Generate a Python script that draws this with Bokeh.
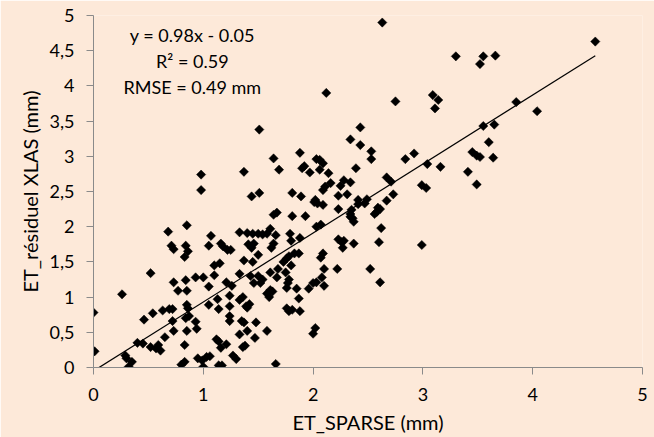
from bokeh.plotting import figure
from bokeh.models import Range1d, FixedTicker, CustomJSTickFormatter, Label, ColumnDataSource
from bokeh.embed import file_html
from bokeh.resources import INLINE

# ET_SPARSE (mm) and ET_résiduel XLAS (mm)
et_sparse = [
    0.00, 0.01, 0.26, 0.29, 0.30, 0.32, 0.35, 0.40, 0.45, 0.46, 0.52, 0.52, 0.54, 0.57, 0.59, 0.61,
    0.63, 0.65, 0.68, 0.69, 0.72, 0.71, 0.73, 0.72, 0.73, 0.73, 0.77, 0.80, 0.83, 0.83, 0.85, 0.84,
    0.83, 0.86, 0.84, 0.85, 0.85, 0.86, 0.84, 0.87, 0.85, 0.93, 1.00, 0.93, 0.94, 0.95, 0.99, 1.03,
    1.06, 1.00, 1.05, 1.07, 1.05, 1.05, 1.10, 1.10, 1.12, 1.14, 1.16, 1.13, 1.14, 1.14, 1.17, 1.15,
    1.16, 1.18, 1.21, 1.21, 1.22, 1.25, 1.24, 1.24, 1.24, 1.26, 1.24, 1.27, 1.30, 1.33, 1.33, 1.33,
    1.33, 1.36, 1.35, 1.37, 1.36, 1.38, 1.37, 1.40, 1.45, 1.50, 1.54, 1.58, 1.39, 1.42, 1.40, 1.40,
    1.41, 1.44, 1.46, 1.43, 1.46, 1.47, 1.48, 1.45, 1.50, 1.50, 1.52, 1.54, 1.58, 1.60, 1.58, 1.61,
    1.62, 1.64, 1.64, 1.67, 1.61, 1.63, 1.66, 1.68, 1.67, 1.61, 1.66, 1.88,
    1.73, 1.76, 1.75, 1.77, 1.76, 1.78, 1.80, 1.78, 1.76, 1.78, 1.81, 1.79, 1.80, 1.81, 1.83, 1.87,
    1.85, 1.87, 1.88, 1.93, 1.96, 2.00, 2.03, 2.00, 2.02, 2.03, 2.07, 2.07, 2.08, 2.10, 2.10,
    2.09, 2.22, 2.23, 2.26, 2.28, 2.27, 2.37, 2.35, 2.36, 2.37, 2.58, 2.52, 2.60, 2.62, 2.61, 2.99,
    0.98, 0.98, 1.37, 1.51, 1.44, 1.51, 1.64, 1.69, 1.81, 1.88, 1.89, 1.90, 1.92, 1.97, 2.03, 2.06,
    2.09, 2.06, 2.01, 2.04, 2.09, 2.11, 2.09, 2.14,
    2.63, 2.12, 3.30, 3.55, 3.52, 3.66, 4.57, 2.75, 3.09, 3.14, 3.11, 3.85, 4.04, 2.43, 2.34, 2.43,
    2.53, 2.53, 3.55, 3.65, 3.60, 3.45, 3.49, 3.52, 3.64, 3.41, 3.49, 2.84, 2.92, 3.04, 3.16, 2.99,
    3.03, 2.67, 2.71, 2.73, 2.67, 2.61, 2.56, 2.49, 2.41, 2.41, 2.34, 2.34, 2.23, 2.39,
    2.28, 2.34, 2.25, 2.31, 2.23, 2.16, 2.02, 2.47, 2.59,
]
et_residuel = [
    0.78, 0.23, 1.04, 0.17, 0.13, 0.01, 0.08, 0.35, 0.34, 0.68, 1.34, 0.29, 0.77, 0.27, 0.32, 0.24,
    0.81, 0.43, 1.93, 0.83, 0.83, 1.73, 1.68, 0.66, 1.21, 0.52, 1.09, 0.04, 0.32, 0.08, 2.02, 1.73,
    1.57, 1.65, 1.24, 1.09, 0.89, 0.84, 0.70, 0.73, 0.52, 1.28, 1.28, 0.65, 0.55, 0.13, 0.10, 0.15,
    0.16, 0.01, 1.73, 1.87, 1.15, 0.89, 1.45, 1.31, 0.40, 0.37, 0.28, 0.97, 0.83, 0.03, 0.03, 1.48,
    1.76, 1.72, 1.21, 0.33, 1.67, 1.67, 0.87, 0.73, 0.66, 1.16, 1.02, 0.17, 0.12, 1.33, 1.92, 0.47,
    0.96, 1.00, 0.66, 0.64, 0.29, 0.31, 1.52, 1.91, 1.90, 1.90, 1.89, 1.90, 0.87, 0.90, 0.85, 0.52,
    1.75, 1.70, 1.76, 1.30, 1.20, 0.42, 0.64, 1.50, 1.60, 1.30, 1.20, 1.25, 1.05, 1.00, 0.52, 1.35,
    1.70, 1.76, 2.17, 2.20, 1.10, 1.08, 0.05, 1.40, 1.28, 1.97, 1.88, 1.84,
    1.50, 1.55, 1.35, 1.20, 1.13, 1.25, 1.45, 1.58, 0.84, 0.80, 0.82, 1.90, 1.80, 2.15, 1.62, 1.62,
    1.12, 0.98, 0.80, 2.15, 1.12, 1.20, 1.21, 0.48, 0.56, 2.00, 2.03, 1.56, 1.28, 1.16, 1.40,
    1.62, 1.40, 1.82, 1.78, 1.80, 1.70, 1.76, 2.24, 2.12, 2.07, 2.21, 1.40, 1.78, 1.98, 1.21, 1.74,
    2.74, 2.52, 2.78, 3.38, 2.43, 2.48, 2.97, 2.81, 2.48, 3.05, 2.43, 2.83, 2.86, 2.77, 2.96, 2.95,
    2.90, 2.81, 2.35, 2.33, 2.52, 2.57, 2.31, 2.76,
    4.90, 3.90, 4.42, 4.42, 4.31, 4.43, 4.63, 3.78, 3.87, 3.80, 3.68, 3.77, 3.64, 3.41, 3.24, 3.16,
    3.07, 2.96, 3.43, 3.45, 3.20, 3.06, 3.01, 2.99, 2.98, 2.78, 2.60, 2.96, 3.04, 2.89, 2.85, 2.59,
    2.55, 2.70, 2.64, 2.46, 2.37, 2.25, 2.18, 2.39, 2.38, 2.32, 2.18, 2.14, 2.25, 2.83,
    2.66, 2.63, 2.58, 2.46, 2.44, 2.62, 2.38, 2.33, 2.27,
]

# Regression: y = 0.98x - 0.05
slope = 0.98
intercept = -0.05
fit_x = [0.05, 4.57]
fit_y = [slope * v + intercept for v in fit_x]

eq_lines = ["y = 0.98x - 0.05", "R\u00b2 = 0.59", "RMSE = 0.49 mm"]

x_ticks = [0, 1, 2, 3, 4, 5]
y_ticks = [0, 0.5, 1, 1.5, 2, 2.5, 3, 3.5, 4, 4.5, 5]

BG = "#FDE9D9"
AX = "#8A8A8A"
FONT = "Lato"
FS = "18px"
FS_TITLE = "20px"

p = figure(width=654, height=437, output_backend="svg", toolbar_location=None,
           x_range=Range1d(0, 5), y_range=Range1d(0, 5),
           min_border_left=93, min_border_right=12, min_border_top=15, min_border_bottom=70)
p.background_fill_color = BG
p.border_fill_color = BG
p.outline_line_color = None
p.xgrid.visible = False
p.ygrid.visible = False

src = ColumnDataSource(dict(x=et_sparse, y=et_residuel))
p.line(fit_x, fit_y, line_color="black", line_width=1.2)
p.scatter("x", "y", source=src, marker="square", size=6.5, angle=0.785398,
          fill_color="black", line_color="black", line_width=0.5)

for ax in (p.xaxis[0], p.yaxis[0]):
    ax.axis_line_color = AX
    ax.major_tick_line_color = AX
    ax.minor_tick_line_color = None
    ax.major_tick_in = 0
    ax.major_tick_out = 7
    ax.major_label_text_font = FONT
    ax.major_label_text_font_size = FS
    ax.major_label_text_color = "black"
    ax.axis_label_text_font = FONT
    ax.axis_label_text_font_size = FS_TITLE
    ax.axis_label_text_font_style = "normal"
    ax.axis_label_text_color = "black"

p.xaxis.ticker = FixedTicker(ticks=x_ticks)
p.yaxis.ticker = FixedTicker(ticks=y_ticks)
fmt = CustomJSTickFormatter(code="return tick.toString().replace('.', ',');")
p.xaxis.formatter = fmt
p.yaxis.formatter = fmt
p.xaxis.major_label_standoff = 13
p.yaxis.major_label_standoff = 12
p.xaxis.axis_label = "ET_SPARSE (mm)"
p.yaxis.axis_label = "ET_r\u00e9siduel XLAS (mm)"
p.xaxis.axis_label_standoff = 6
p.yaxis.axis_label_standoff = 5

for txt, yy in zip(eq_lines, [4.72, 4.35, 3.98]):
    p.add_layout(Label(x=0.90, y=yy, text=txt, text_align="center", text_baseline="middle",
                       text_font=FONT, text_font_size=FS, text_color="black"))

open("out.html", "w").write(file_html(p, INLINE))
